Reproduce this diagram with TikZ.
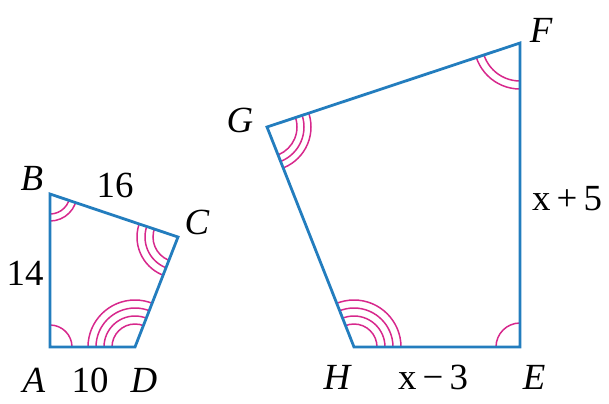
\documentclass[tikz,border=0pt]{standalone}
\usepackage{fontspec}
\setmainfont{Liberation Serif}
\definecolor{edgeblue}{RGB}{35,125,190}
\definecolor{arcmag}{RGB}{215,40,140}
\begin{document}
\begin{tikzpicture}[x=1bp,y=-1bp,
  edge/.style={draw=edgeblue,line width=2.8bp,line join=miter},
  arcmark/.style={draw=arcmag,line width=1.5bp},
  lbl/.style={font=\fontsize{37}{42}\selectfont\itshape,inner sep=0pt},
  num/.style={font=\fontsize{37}{42}\selectfont,inner sep=0pt}]
\useasboundingbox (0,0) rectangle (609,403);
% vertices
\coordinate (A) at (50,347);
\coordinate (B) at (50,194);
\coordinate (C) at (178,237);
\coordinate (D) at (135,347);
\coordinate (G) at (267,127);
\coordinate (F) at (520,43);
\coordinate (E) at (520,347);
\coordinate (H) at (354,347);
% angle marks small
\begin{scope}
\clip (A) -- (B) -- (C) -- (D) -- cycle;
\draw[arcmark] (A) circle[radius=22];
\draw[arcmark] (B) circle[radius=20] (B) circle[radius=27];
\draw[arcmark] (C) circle[radius=25] (C) circle[radius=33] (C) circle[radius=41];
\draw[arcmark] (D) circle[radius=23] (D) circle[radius=31] (D) circle[radius=39] (D) circle[radius=47];
\end{scope}
% angle marks large
\begin{scope}
\clip (G) -- (F) -- (E) -- (H) -- cycle;
\draw[arcmark] (G) circle[radius=30] (G) circle[radius=37] (G) circle[radius=44];
\draw[arcmark] (F) circle[radius=38] (F) circle[radius=46];
\draw[arcmark] (E) circle[radius=24];
\draw[arcmark] (H) circle[radius=23] (H) circle[radius=31] (H) circle[radius=39] (H) circle[radius=47];
\end{scope}
% polygons
\draw[edge] (A) -- (B) -- (C) -- (D) -- cycle;
\draw[edge] (G) -- (F) -- (E) -- (H) -- cycle;
% labels
\node[lbl] (lA) at (34,380) {A};
\node[lbl] (lD) at (144,380) {D};
\node[lbl] (lB) at (32,178) {B};
\node[lbl] (lC) at (197,222) {C};
\node[num] (n10) at (90,380) {10};
\node[num] (n16) at (115,185) {16};
\node[num] (n14) at (25,273) {14};
\node[lbl] (lG) at (240,120) {G};
\node[lbl] (lF) at (541,30) {F};
\node[lbl] (lH) at (337,377) {H};
\node[lbl] (lE) at (534,377) {E};
\node[num] (nx5) at (567,199) {x\,+\,5};
\node[num] (nx3) at (433,377) {x\,−\,3};
\end{tikzpicture}
\end{document}
